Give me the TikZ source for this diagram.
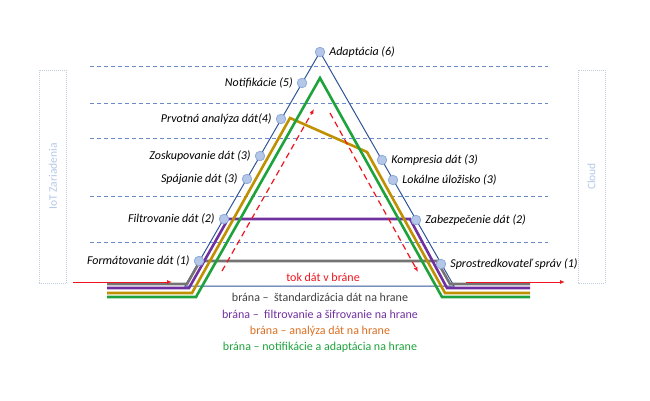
\documentclass[tikz,border=0pt]{standalone}
\usepackage{fontspec}
\setmainfont{Carlito}
\usepackage{xcolor}
\usepackage{tikz}
\usetikzlibrary{arrows.meta,positioning,calc}

\definecolor{modra}{HTML}{2F5597}
\definecolor{vrstvamodra}{HTML}{6A8AC8}
\definecolor{bodvypln}{HTML}{B4C7E7}
\definecolor{bodokraj}{HTML}{8FAADC}
\definecolor{sedalinka}{HTML}{747474}
\definecolor{fialova}{HTML}{7030A0}
\definecolor{zlta}{HTML}{BF9000}
\definecolor{zelena}{HTML}{1EA33C}
\definecolor{cervena}{HTML}{F0141E}
\definecolor{oranzova}{HTML}{DA6E20}
\definecolor{sedytext}{HTML}{404040}
\definecolor{ramsivy}{HTML}{C5CEDF}
\definecolor{ramtext}{HTML}{B4C7E7}

\begin{document}
\begin{tikzpicture}[x=1pt, y=-1pt,
    bod/.style={circle, draw=bodokraj, fill=bodvypln, line width=0.8pt, inner sep=0pt, minimum size=9.5pt},
    popis/.style={font=\fontsize{12}{14}\selectfont\itshape, inner sep=1pt},
    vrstva/.style={draw=vrstvamodra, line width=0.9pt, dash pattern=on 4pt off 3pt},
    cesta/.style={line width=2.6pt},
    tok/.style={draw=cervena, line width=1pt, -{Latex[length=5pt,width=4pt]}},
    ram/.style={draw=ramsivy, line width=1pt, dash pattern=on 1pt off 1pt, rotate=90,
        minimum width=213pt, minimum height=27pt, text=ramtext, font=\fontsize{11.5}{13}\selectfont}]

\useasboundingbox (0,0) rectangle (650,400);

% vrstvy
\foreach \y in {66,103,138,196,242}
    \draw[vrstva] (90,\y) -- (548,\y);

% boky
\node[ram] (iot) at (53,176.5) {IoT Zariadenia};
\node[ram] (cloud) at (591.5,176.5) {Cloud};

% trojuholnik brany
\coordinate (vrchol) at (320,52);
\coordinate (lavy) at (185,286);
\coordinate (pravy) at (454,286);
\draw[modra, line width=1pt] (vrchol) -- (lavy) -- (pravy) -- cycle;

% cesty dat
\draw[cesta, sedalinka] (107,284) -- (187,284) -- (200,261) -- (437,261) -- (450,284) -- (530,284);
\draw[cesta, fialova] (107,288) -- (189,288) -- (228,219) -- (410,219) -- (447,288) -- (530,288);
\draw[cesta, zlta] (107,293) -- (192,293) -- (290,118) -- (367,152) -- (445,293) -- (530,293);
\draw[cesta, zelena] (107,297) -- (196,297) -- (320,78) -- (442,297) -- (530,297);

% tok dat
\coordinate (vstupA) at (73,282);
\coordinate (vstupB) at (172,282);
\coordinate (vystupA) at (466,282);
\coordinate (vystupB) at (565,282);
\coordinate (horeA) at (222,271);
\coordinate (horeB) at (314,109);
\coordinate (doluA) at (330,113);
\coordinate (doluB) at (418,272);
\draw[tok] (vstupA) -- (vstupB);
\draw[tok] (vystupA) -- (vystupB);
\draw[tok, line width=1.2pt, dash pattern=on 6pt off 4pt] (horeA) -- (horeB);
\draw[tok, line width=1.2pt, dash pattern=on 6pt off 4pt] (doluA) -- (doluB);

% funkcie brany
\foreach \n/\x/\y/\t in {n5/302/83/{Notifikácie (5)}, n4/281/119/{Prvotná analýza dát(4)},
        n3a/260/156/{Zoskupovanie dát (3)}, n3b/247/179/{Spájanie dát (3)},
        n2a/224/219/{Filtrovanie dát (2)}, n1a/199/261/{Formátovanie dát (1)}} {
    \node[bod] (\n) at (\x,\y) {};
    \node[popis, left=3pt of \n] {\t};
}
\foreach \n/\x/\y/\t in {n6/320/52/{Adaptácia (6)}, n3c/382/160/{Kompresia dát (3)},
        n3d/393/180/{Lokálne úložisko (3)}, n2b/416/220/{Zabezpečenie dát (2)},
        n1b/441/264/{Sprostredkovateľ správ (1)}} {
    \node[bod] (\n) at (\x,\y) {};
    \node[popis, right=3pt of \n] {\t};
}

% legenda
\node[text=cervena, font=\fontsize{12}{14}\selectfont] (tokdat) at (323,277) {tok dát v bráne};
\foreach \y/\f/\t in {297/sedytext/{brána –\ \ štandardizácia dát na hrane},
        314/fialova/{brána –\ \ filtrovanie a šifrovanie na hrane},
        331/oranzova/{brána – analýza dát na hrane},
        347/zelena/{brána – notifikácie a adaptácia na hrane}}
    \node[text=\f, font=\fontsize{12}{14}\selectfont] at (320,\y) {\t};

\end{tikzpicture}
\end{document}
